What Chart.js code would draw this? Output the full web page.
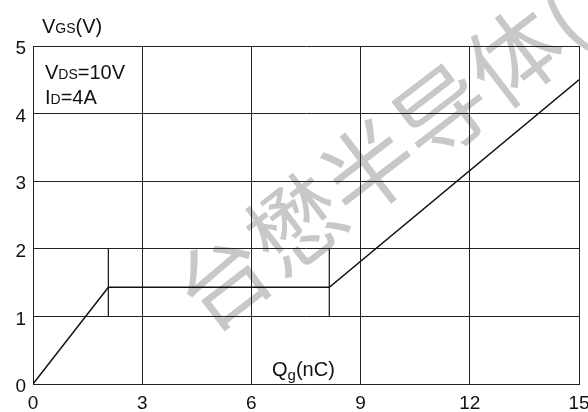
<!DOCTYPE html>
<html>
<head>
<meta charset="utf-8">
<script src="https://cdn.jsdelivr.net/npm/chart.js@4"></script>
<style>
  html, body { margin: 0; padding: 0; background: #fff; }
  #wrap { width: 588px; height: 412px; }
</style>
</head>
<body>
<div id="wrap"><canvas id="qgChart"></canvas></div>
<script>
// gate charge curve
const qg = [0, 2.07, 8.14, 15];
const vgs = [0, 1.43, 1.43, 4.5];
// the two short vertical markers around the plateau
const markerX = [2.07, 8.14];
const markerY = [1, 2];
const xTicks = [0, 3, 6, 9, 12, 15];
const yTicks = [0, 1, 2, 3, 4, 5];

const FONT = "'Liberation Sans', Arial, sans-serif";

// draw "main" + smaller "sub" + "rest" on one baseline
function subText(ctx, x, y, main, sub, rest, size, subSize, drop) {
    ctx.font = size + 'px ' + FONT;
    ctx.fillText(main, x, y);
    x += ctx.measureText(main).width;
    ctx.font = subSize + 'px ' + FONT;
    ctx.fillText(sub, x, y + (drop || 0));
    x += ctx.measureText(sub).width;
    ctx.font = size + 'px ' + FONT;
    ctx.fillText(rest, x, y);
}

const watermark = {
    id: 'watermark',
    beforeDraw(chart) {
        const ctx = chart.ctx;
        ctx.save();
        ctx.translate(186, 308);
        ctx.rotate(-37.5 * Math.PI / 180);
        ctx.fillStyle = '#c8c8c8';
        ctx.font = "92px 'Noto Sans CJK SC'";
        ctx.textAlign = 'left';
        ctx.textBaseline = 'middle';
        ctx.fillText('台懋半导体(', 0, 0);
        ctx.restore();
    }
};

const labels = {
    id: 'labels',
    afterDraw(chart) {
        const ctx = chart.ctx;
        ctx.save();
        ctx.fillStyle = '#111';
        ctx.textAlign = 'left';
        ctx.textBaseline = 'alphabetic';
        subText(ctx, 42, 33, 'V', 'GS', '(V)', 20, 14);
        subText(ctx, 45, 79, 'V', 'DS', '=10V', 20, 14);
        subText(ctx, 45, 104, 'I', 'D', '=4A', 20, 14);
        subText(ctx, 272, 376, 'Q', 'g', '(nC)', 20, 15, 4);
        ctx.restore();
    }
};

const lineStyle = {
    showLine: true,
    borderColor: '#111',
    borderWidth: 1.5,
    pointRadius: 0,
    fill: false,
    tension: 0
};

new Chart(document.getElementById('qgChart'), {
    type: 'scatter',
    data: {
        datasets: [
            Object.assign({ data: qg.map((x, i) => ({ x: x, y: vgs[i] })) }, lineStyle),
            Object.assign({ data: markerY.map(y => ({ x: markerX[0], y: y })) }, lineStyle, { borderWidth: 1.2 }),
            Object.assign({ data: markerY.map(y => ({ x: markerX[1], y: y })) }, lineStyle, { borderWidth: 1.2 })
        ]
    },
    options: {
        responsive: true,
        maintainAspectRatio: false,
        animation: false,
        layout: { padding: { top: 46, right: 9, left: 0, bottom: 0 } },
        plugins: {
            legend: { display: false },
            tooltip: { enabled: false }
        },
        scales: {
            x: {
                type: 'linear',
                min: 0,
                max: 15,
                afterBuildTicks: s => { s.ticks = xTicks.map(v => ({ value: v })); },
                afterFit: s => { s.height = 28; s.paddingRight = 0; s.paddingLeft = 0; },
                grid: { color: '#222', lineWidth: 1, drawTicks: false, tickLength: 0 },
                border: { color: '#222', width: 1 },
                ticks: {
                    color: '#111',
                    padding: 8,
                    maxRotation: 0,
                    font: { family: FONT, size: 19 }
                }
            },
            y: {
                type: 'linear',
                min: 0,
                max: 5,
                afterBuildTicks: s => { s.ticks = yTicks.map(v => ({ value: v })); },
                afterFit: s => { s.width = 33; },
                grid: { color: '#222', lineWidth: 1, drawTicks: false, tickLength: 0 },
                border: { color: '#222', width: 1 },
                ticks: {
                    color: '#111',
                    padding: 7,
                    labelOffset: 3,
                    font: { family: FONT, size: 19 }
                }
            }
        }
    },
    plugins: [watermark, labels]
});
</script>
</body>
</html>
